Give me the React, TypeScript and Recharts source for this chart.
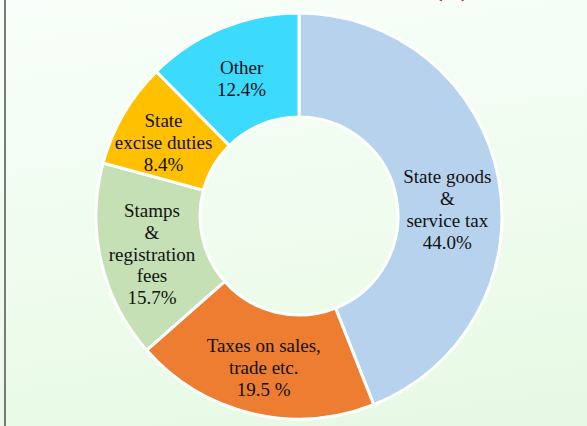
import React from 'react';
import { PieChart, Pie, Cell } from 'recharts';

// Share of each tax head in states' own tax revenue (%)
const categories = [
  'State goods & service tax',
  'Taxes on sales, trade etc.',
  'Stamps & registration fees',
  'State excise duties',
  'Other',
];
const shares = [44.0, 19.5, 15.7, 8.4, 12.4];
const labelLines = [
  ['State goods', '&', 'service tax', '44.0%'],
  ['Taxes on sales,', 'trade etc.', '19.5 %'],
  ['Stamps', '&', 'registration', 'fees', '15.7%'],
  ['State', 'excise duties', '8.4%'],
  ['Other', '12.4%'],
];
const titleText = "[Share in States' Own Tax Revenue (%)]";

const COLORS = ['#b7d2ed', '#ed7d31', '#c5e0b4', '#ffc000', '#3cdafc'];
// small per-slice nudges so the text sits where the original places it
const NUDGE_Y = [22, 5, 4, 3, 2];
const NUDGE_X = [0, 0, 0, -5, 0];

const data = categories.map((name, i) => ({ name, value: shares[i], lines: labelLines[i] }));

const RAD = Math.PI / 180;
const LINE_H = 21.8;
const SERIF = "'Liberation Serif', 'DejaVu Serif', serif";

const SliceLabel = (props: any) => {
  const { cx, cy, midAngle, innerRadius, outerRadius, index } = props;
  const r = (innerRadius + outerRadius) / 2;
  const x = cx + r * Math.cos(-midAngle * RAD) + NUDGE_X[index];
  const yc = cy + r * Math.sin(-midAngle * RAD) + NUDGE_Y[index];
  const lines: string[] = data[index].lines;
  const y0 = yc - ((lines.length - 1) * LINE_H) / 2 + 6.3;
  return (
    <text
      x={x}
      y={y0}
      textAnchor="middle"
      fill="#111"
      fontSize={19}
      style={{ fontFamily: SERIF }}
    >
      {lines.map((l, i) => (
        <tspan key={i} x={x} y={y0 + i * LINE_H}>
          {l}
        </tspan>
      ))}
    </text>
  );
};

export default function App() {
  return (
    <div
      style={{
        position: 'absolute',
        left: 0,
        top: 0,
        width: 587,
        height: 426,
        overflow: 'hidden',
        fontFamily: SERIF,
        background: 'linear-gradient(172deg, #f8fffa 0%, #f0fcef 50%, #e6f9e3 100%)',
      }}
    >
      <div
        style={{
          position: 'absolute',
          left: 4,
          top: 0,
          width: 2,
          height: 426,
          background: '#7a7a7a',
        }}
      />
      <svg width={587} height={426} style={{ position: 'absolute', left: 0, top: 0 }}>
        <text
          x={158}
          y={-3}
          textLength={316}
          lengthAdjust="spacing"
          fill="#e4007c"
          fontSize={22}
          fontWeight="bold"
          style={{ fontFamily: SERIF }}
        >
          {titleText}
        </text>
      </svg>
      <div style={{ position: 'absolute', left: 0, top: 0 }}>
        <PieChart width={587} height={426} margin={{ top: 0, right: 0, bottom: 0, left: 0 }}>
          <Pie
            data={data}
            dataKey="value"
            nameKey="name"
            cx={299}
            cy={216}
            innerRadius={99}
            outerRadius={203}
            startAngle={90}
            endAngle={-270}
            stroke="#ffffff"
            strokeWidth={3}
            label={SliceLabel}
            labelLine={false}
            isAnimationActive={false}
          >
            {data.map((d, i) => (
              <Cell key={d.name} fill={COLORS[i]} />
            ))}
          </Pie>
        </PieChart>
      </div>
    </div>
  );
}
